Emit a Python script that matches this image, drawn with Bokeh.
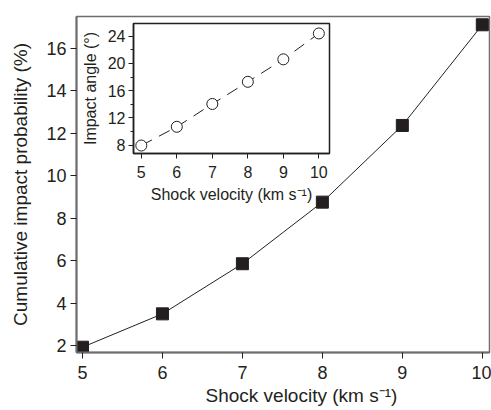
from bokeh.plotting import figure
from bokeh.models import Range1d, FixedTicker, InlineStyleSheet, Title
from bokeh.embed import file_html
from bokeh.resources import INLINE

# Main panel data
velocity = [5, 6, 7, 8, 9, 10]
probability = [1.92, 3.49, 5.85, 8.75, 12.36, 17.1]
main_x_ticks = [5, 6, 7, 8, 9, 10]
main_y_ticks = [2, 4, 6, 8, 10, 12, 14, 16]

# Inset data
inset_velocity = [5, 6, 7, 8, 9, 10]
impact_angle = [7.95, 10.7, 14.05, 17.3, 20.6, 24.4]
inset_x_ticks = [5, 6, 7, 8, 9, 10]
inset_y_ticks = [8, 12, 16, 20, 24]
inset_y_minor = [10, 14, 18, 22]

FONT = "Liberation Sans"
TXT = "#231f20"
FRAME = "#6e6e6e"

p = figure(width=491, height=410, output_backend="svg", toolbar_location=None,
           x_range=Range1d(4.925, 10.09), y_range=Range1d(1.67, 17.49),
           min_border_left=76, min_border_top=16, min_border_right=2, min_border_bottom=58)
p.grid.visible = False
p.outline_line_color = FRAME
p.outline_line_width = 1.5
p.background_fill_color = "white"
p.border_fill_color = "white"

p.xaxis.ticker = FixedTicker(ticks=main_x_ticks)
p.yaxis.ticker = FixedTicker(ticks=main_y_ticks)
p.yaxis.axis_label = "Cumulative impact probability (%)"
for ax in (p.xaxis[0], p.yaxis[0]):
    ax.axis_line_color = FRAME
    ax.axis_line_width = 2
    ax.major_tick_line_color = TXT
    ax.major_tick_line_width = 1
    ax.major_tick_out = 6
    ax.major_tick_in = 0
    ax.minor_tick_out = 0
    ax.minor_tick_in = 0
    ax.major_label_text_font = FONT
    ax.major_label_text_font_size = "18px"
    ax.major_label_text_color = TXT
    ax.axis_label_text_font = FONT
    ax.axis_label_text_font_size = "19px"
    ax.axis_label_text_font_style = "normal"
    ax.axis_label_text_color = TXT
p.xaxis.major_label_standoff = 7
p.yaxis.major_label_standoff = 4
p.yaxis.axis_label_standoff = 12

# x-axis title of the main panel (sits right of centre in the original)
xlab = Title(text="Shock velocity (km s\u207b\u00b9)", align="left", offset=129,
             text_font=FONT, text_font_size="19px", text_font_style="normal",
             text_color=TXT, standoff=2)
p.add_layout(xlab, "below")

p.line(velocity, probability, line_color="#222222", line_width=1)
p.scatter(velocity, probability, marker="square", size=12,
          fill_color="#231f20", line_color="#231f20")

inset_css = InlineStyleSheet(css=":host { position: absolute !important; left: 78px !important; top: 20px !important; z-index: 2; }")
q = figure(width=257, height=188, output_backend="svg", toolbar_location=None,
           x_range=Range1d(4.78, 10.30), y_range=Range1d(6.78, 25.86),
           min_border_left=51, min_border_top=3, min_border_right=6, min_border_bottom=55,
           stylesheets=[inset_css])
q.grid.visible = False
q.outline_line_color = "#231f20"
q.outline_line_width = 1.5
q.background_fill_color = "white"
q.border_fill_alpha = 0
q.xaxis.ticker = FixedTicker(ticks=inset_x_ticks)
q.yaxis.ticker = FixedTicker(ticks=inset_y_ticks, minor_ticks=inset_y_minor)
q.xaxis.axis_label = "Shock velocity (km s\u207b\u00b9)"
q.yaxis.axis_label = "Impact angle (\u00b0)"
for ax in (q.xaxis[0], q.yaxis[0]):
    ax.axis_line_color = "#231f20"
    ax.axis_line_width = 1.5
    ax.major_tick_line_color = TXT
    ax.major_tick_out = 5
    ax.major_tick_in = 0
    ax.minor_tick_line_color = TXT
    ax.minor_tick_out = 3
    ax.minor_tick_in = 0
    ax.major_label_text_font = FONT
    ax.major_label_text_font_size = "16px"
    ax.major_label_text_color = TXT
    ax.axis_label_text_font = FONT
    ax.axis_label_text_font_size = "16px"
    ax.axis_label_text_font_style = "normal"
    ax.axis_label_text_color = TXT
q.xaxis.minor_tick_out = 0
q.xaxis.major_label_standoff = 7
q.xaxis.axis_label_standoff = 5
q.yaxis.major_label_standoff = 3
q.yaxis.axis_label_standoff = 6

q.line(inset_velocity, impact_angle, line_color="#231f20", line_width=1, line_dash="12 8")
q.scatter(inset_velocity, impact_angle, marker="circle", size=11,
          fill_color="white", line_color="#231f20", line_width=1)

open("out.html", "w").write(file_html([p, q], INLINE))
